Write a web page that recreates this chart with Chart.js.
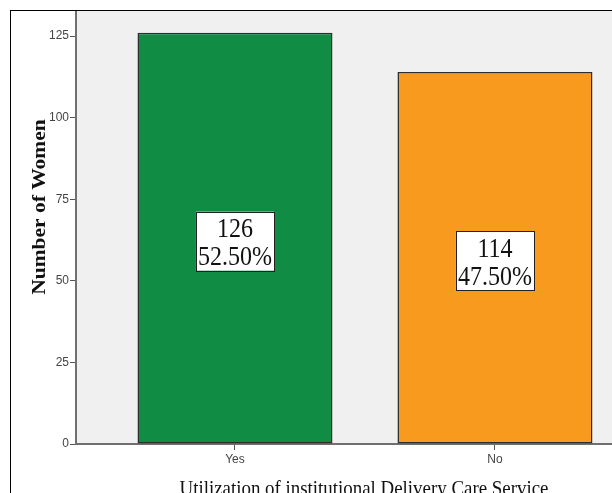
<!DOCTYPE html>
<html>
<head>
<meta charset="utf-8">
<script src="https://cdn.jsdelivr.net/npm/chart.js@4.4.1/dist/chart.umd.min.js"></script>
<style>
  html, body { margin: 0; padding: 0; background: #fff; overflow: hidden; }
  .frame {
    position: absolute; left: 10px; top: 10px;
    width: 720px; height: 520px;
    border-top: 1px solid #000; border-left: 1px solid #000;
  }
  .frame canvas { display: block; }
</style>
</head>
<body>
<div class="frame"><canvas id="chart" width="700" height="500"></canvas></div>
<script>
// data
const categories = ["Yes", "No"];
const counts = [126, 114];
const percentLabels = ["52.50%", "47.50%"];
const barColors = ["#118c45", "#f89a1e"];
const yTicks = [0, 25, 50, 75, 100, 125];

const yTitle = "Number of Women";
const xTitle = "Utilization of institutional Delivery Care Service";

// the source picture is a bit squashed sideways, text follows that
const squash = 0.89;

const plotBg = {
  id: "plotBg",
  beforeDraw(chart) {
    const { ctx, chartArea: a } = chart;
    ctx.save();
    ctx.fillStyle = "#f0f0f0";
    ctx.fillRect(a.left, a.top, a.right - a.left, a.bottom - a.top);
    ctx.restore();
  },
};

const boxLabels = {
  id: "boxLabels",
  afterDatasetsDraw(chart) {
    const ctx = chart.ctx;
    const meta = chart.getDatasetMeta(0);
    ctx.save();
    ctx.font = '27px "Liberation Serif", "Times New Roman", serif';
    meta.data.forEach((bar, i) => {
      const { x, y, base } = bar.getProps(["x", "y", "base"], true);
      const cy = (y + base) / 2 + 3;
      const lines = [String(counts[i]), percentLabels[i]];
      const w = Math.max(...lines.map(t => ctx.measureText(t).width)) * squash + 4;
      const h = 59;
      ctx.fillStyle = "#fff";
      ctx.fillRect(x - w / 2, cy - h / 2, w, h);
      ctx.strokeStyle = "#222";
      ctx.lineWidth = 1;
      ctx.strokeRect(Math.round(x - w / 2) + 0.5, Math.round(cy - h / 2) + 0.5, Math.round(w), h);
      ctx.fillStyle = "#111";
      ctx.textAlign = "center";
      ctx.textBaseline = "alphabetic";
      [cy - 4, cy + 24].forEach((by, k) => {
        ctx.save();
        ctx.translate(x, by);
        ctx.scale(squash, 1);
        ctx.fillText(lines[k], 0, 0);
        ctx.restore();
      });
    });
    ctx.restore();
  },
};

const axisTitles = {
  id: "axisTitles",
  afterDraw(chart) {
    const { ctx, chartArea: a } = chart;
    ctx.save();
    ctx.fillStyle = "#111";
    ctx.textAlign = "center";
    ctx.textBaseline = "alphabetic";

    ctx.save();
    ctx.font = '21px "Liberation Serif", "Times New Roman", serif';
    ctx.translate((a.left + a.right) / 2, a.bottom + 51);
    ctx.scale(0.9, 1);
    ctx.fillText(xTitle, 0, 0);
    ctx.restore();

    ctx.save();
    ctx.font = 'bold 21.5px "Liberation Serif", "Times New Roman", serif';
    ctx.translate(34, 196);
    ctx.rotate(-Math.PI / 2);
    ctx.scale(1, squash);
    ctx.fillText(yTitle, 0, 0);
    ctx.restore();

    ctx.restore();
  },
};

const tickFont = { family: '"Liberation Sans", Arial, sans-serif', size: 12 };

new Chart(document.getElementById("chart"), {
  type: "bar",
  data: {
    datasets: [
      {
        data: counts.map((v, i) => ({ x: i, y: v })),
        backgroundColor: barColors,
        borderColor: "#2e2e2e",
        borderWidth: 1.5,
        borderSkipped: false,
        barPercentage: 0.75,
        categoryPercentage: 1,
      },
    ],
  },
  options: {
    responsive: false,
    animation: false,
    layout: { padding: { left: 0, right: 59, top: 0, bottom: 0 } },
    plugins: { legend: { display: false }, tooltip: { enabled: false } },
    scales: {
      x: {
        type: "linear",
        min: -0.6115,
        max: 1.604,
        offset: false,
        afterBuildTicks: s => { s.ticks = categories.map((c, i) => ({ value: i })); },
        afterFit: s => { s.height = 67; s.paddingLeft = 0; s.paddingRight = 0; },
        ticks: {
          callback: (v, i) => categories[i],
          font: tickFont,
          color: "#444",
          padding: 2,
          maxRotation: 0,
          autoSkip: false,
          includeBounds: false,
        },
        grid: { display: true, offset: false, drawOnChartArea: false, tickLength: 6, tickColor: "#555", tickWidth: 1 },
        border: { display: true, color: "#707070", width: 2 },
      },
      y: {
        min: 0,
        max: 132.7,
        afterBuildTicks: s => { s.ticks = yTicks.map(v => ({ value: v })); },
        afterFit: s => { s.width = 65; s.paddingTop = 0; s.paddingBottom = 0; },
        ticks: { font: tickFont, color: "#444", padding: 1, includeBounds: false },
        grid: { display: true, drawOnChartArea: false, tickLength: 6, tickColor: "#555", tickWidth: 1 },
        border: { display: true, color: "#707070", width: 2 },
      },
    },
  },
  plugins: [plotBg, boxLabels, axisTitles],
});
</script>
</body>
</html>
